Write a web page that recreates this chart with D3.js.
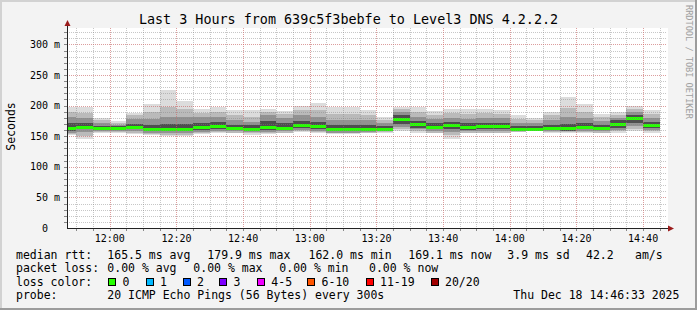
<!DOCTYPE html>
<html>

<head>
    <meta charset="utf-8">
    <style type="text/css">
        body {
            margin: 0;
            background: #f3f3f3;
        }

        text {
            font-family: "DejaVu Sans Mono", monospace;
            fill: #000;
        }
    </style>
</head>

<body>
    <div id="canvas"></div>

    <script type="text/javascript" src="https://cdn.jsdelivr.net/npm/d3@7/dist/d3.min.js"></script>
    <script type="text/javascript">
        // 5 minute slots, one bar each (start time of the slot)
        var slotTimes = ["11:45", "11:50", "11:55", "12:00", "12:05", "12:10", "12:15", "12:20", "12:25", "12:30",
            "12:35", "12:40", "12:45", "12:50", "12:55", "13:00", "13:05", "13:10", "13:15", "13:20",
            "13:25", "13:30", "13:35", "13:40", "13:45", "13:50", "13:55", "14:00", "14:05", "14:10",
            "14:15", "14:20", "14:25", "14:30", "14:35", "14:40"];

        // median rtt in ms
        var medianRtt = [163.0, 165.5, 163.0, 163.0, 164.5, 162.2, 162.0, 162.4, 164.5, 166.7,
            163.0, 162.3, 165.5, 164.0, 167.8, 166.0, 162.2, 162.3, 162.3, 162.3,
            178.0, 169.4, 165.5, 167.8, 165.0, 166.0, 166.0, 162.3, 162.1, 163.4,
            163.0, 165.5, 164.0, 169.4, 179.9, 169.1];

        // smoke bands (ms), outer to inner
        var smokeMax = [197, 198, 180, 175, 188, 203, 226, 208, 194, 197, 193, 193, 195, 191, 200, 205, 198, 197, 193, 181,
            198, 197, 191, 195, 194, 195, 192, 184, 180, 190, 214, 203, 186, 189, 199, 193];
        var smokeMin = [152, 145, 156, 155, 154, 152, 150, 150, 153, 155, 155, 152, 154, 155, 157, 156, 154, 154, 155, 156,
            158, 156, 155, 146, 155, 155, 155, 157, 158, 156, 156, 156, 155, 156, 158, 156];
        var smokeHi1 = [190, 188, 176, 172, 184, 190, 198, 195, 188, 190, 184, 182, 190, 186, 192, 192, 186, 186, 185, 177,
            195, 190, 185, 188, 186, 188, 186, 178, 176, 184, 196, 190, 181, 185, 195, 186];
        var smokeLo1 = [154, 151, 157, 157, 156, 154, 152, 152, 155, 157, 156, 155, 155, 156, 158, 157, 155, 155, 156, 157,
            161, 158, 156, 152, 156, 156, 156, 157, 158, 157, 157, 157, 156, 158, 161, 158];
        var smokeHi2 = [182, 180, 171, 169, 178, 178, 182, 182, 182, 182, 176, 174, 184, 180, 184, 182, 176, 176, 176, 172,
            190, 182, 178, 180, 178, 180, 179, 172, 171, 176, 182, 180, 175, 180, 190, 179];
        var smokeLo2 = [156, 157, 158, 158, 158, 156, 155, 155, 157, 159, 158, 157, 157, 158, 160, 159, 156, 156, 157, 158,
            165, 161, 158, 157, 158, 158, 158, 158, 159, 158, 158, 159, 158, 160, 166, 160];
        var smokeHi3 = [172, 171, 167, 166, 170, 168, 170, 170, 172, 174, 169, 168, 175, 172, 175, 173, 168, 168, 168, 167,
            184, 175, 171, 173, 171, 172, 172, 167, 166, 169, 170, 171, 169, 176, 185, 174];
        var smokeLo3 = [159, 161, 160, 160, 161, 158, 158, 158, 160, 162, 160, 159, 160, 160, 163, 162, 158, 158, 159, 159,
            170, 164, 161, 162, 160, 161, 161, 159, 160, 160, 159, 161, 160, 163, 172, 163];

        var yTicks = [0, 50, 100, 150, 200, 250, 300];

        var lossLabels = ["0", "1", "2", "3", "4-5", "6-10", "11-19", "20/20"];
        var lossColors = ["#26ff00", "#00b8ff", "#0059ff", "#7e00ff", "#f000ff", "#ff5500", "#ff0000", "#a10000"];

        (function () {
            var W = 697, H = 310;
            var left = 67, right = 667, top = 28, bottom = 228;
            var parse = d3.timeParse("%Y-%m-%d %H:%M:%S");
            var day = "2025-12-18 ";

            var svg = d3.select('#canvas').append('svg')
                .attr('width', W)
                .attr('height', H)
                .style('display', 'block');

            svg.append('rect').attr('width', W).attr('height', H).attr('fill', '#f3f3f3');
            // frame shading
            svg.append('rect').attr('x', 0).attr('y', 0).attr('width', W).attr('height', 2).attr('fill', '#d2d2d2');
            svg.append('rect').attr('x', 0).attr('y', 0).attr('width', 2).attr('height', H).attr('fill', '#d2d2d2');
            svg.append('rect').attr('x', 0).attr('y', H - 2).attr('width', W).attr('height', 2).attr('fill', '#9c9c9c');
            svg.append('rect').attr('x', W - 2).attr('y', 0).attr('width', 2).attr('height', H).attr('fill', '#9c9c9c');

            var x = d3.scaleTime()
                .domain([parse(day + "11:47:10"), parse(day + "14:47:10")])
                .range([left, right]);
            var y = d3.scaleLinear()
                .domain([0, 326.8])
                .range([bottom, top]);

            svg.append('rect')
                .attr('x', left).attr('y', top)
                .attr('width', right - left + 1).attr('height', bottom - top)
                .attr('fill', '#fff');

            svg.append('clipPath').attr('id', 'plot')
                .append('rect')
                .attr('x', left).attr('y', top)
                .attr('width', right - left).attr('height', bottom - top);

            var bars = slotTimes.map(function (s, i) {
                var t0 = parse(day + s + ":00");
                return {
                    t0: t0,
                    t1: d3.timeMinute.offset(t0, 5),
                    med: medianRtt[i],
                    bands: [
                        [smokeMin[i], smokeMax[i]],
                        [smokeLo1[i], smokeHi1[i]],
                        [smokeLo2[i], smokeHi2[i]],
                        [smokeLo3[i], smokeHi3[i]]
                    ]
                };
            });

            var bandColors = ["#dcdcdc", "#bababa", "#929292", "#4e4e4e"];
            var g = svg.append('g').attr('clip-path', 'url(#plot)');

            bandColors.forEach(function (c, k) {
                g.selectAll('rect.b' + k)
                    .data(bars)
                    .enter().append('rect')
                    .attr('class', 'b' + k)
                    .attr('x', function (d) { return x(d.t0); })
                    .attr('width', function (d) { return x(d.t1) - x(d.t0); })
                    .attr('y', function (d) { return y(d.bands[k][1]); })
                    .attr('height', function (d) { return y(d.bands[k][0]) - y(d.bands[k][1]); })
                    .attr('fill', c)
                    .attr('shape-rendering', 'crispEdges');
            });

            g.selectAll('rect.med')
                .data(bars)
                .enter().append('rect')
                .attr('class', 'med')
                .attr('x', function (d) { return x(d.t0); })
                .attr('width', function (d) { return x(d.t1) - x(d.t0); })
                .attr('y', function (d) { return Math.round(y(d.med)) - 1.5; })
                .attr('height', 3)
                .attr('fill', lossColors[0])
                .attr('shape-rendering', 'crispEdges');

            // grid
            var grid = svg.append('g').attr('shape-rendering', 'crispEdges');
            var minorX = x.ticks(d3.timeMinute.every(5));
            var majorX = x.ticks(d3.timeMinute.every(20));
            var minorY = d3.range(10, 327, 10);

            grid.selectAll('line.vx')
                .data(minorX)
                .enter().append('line')
                .attr('x1', function (d) { return Math.round(x(d)) + 0.5; })
                .attr('x2', function (d) { return Math.round(x(d)) + 0.5; })
                .attr('y1', top).attr('y2', bottom)
                .attr('stroke', 'rgba(130,130,130,0.45)')
                .attr('stroke-dasharray', '1,1');
            grid.selectAll('line.hy')
                .data(minorY)
                .enter().append('line')
                .attr('x1', left).attr('x2', right)
                .attr('y1', function (d) { return Math.round(y(d)) + 0.5; })
                .attr('y2', function (d) { return Math.round(y(d)) + 0.5; })
                .attr('stroke', 'rgba(130,130,130,0.45)')
                .attr('stroke-dasharray', '1,1');
            grid.selectAll('line.mx')
                .data(majorX)
                .enter().append('line')
                .attr('x1', function (d) { return Math.round(x(d)) + 0.5; })
                .attr('x2', function (d) { return Math.round(x(d)) + 0.5; })
                .attr('y1', top).attr('y2', bottom)
                .attr('stroke', 'rgba(255,90,90,0.38)')
                .attr('stroke-dasharray', '1,1');
            grid.selectAll('line.my')
                .data(yTicks.slice(1))
                .enter().append('line')
                .attr('x1', left).attr('x2', right)
                .attr('y1', function (d) { return Math.round(y(d)) + 0.5; })
                .attr('y2', function (d) { return Math.round(y(d)) + 0.5; })
                .attr('stroke', 'rgba(255,90,90,0.38)')
                .attr('stroke-dasharray', '1,1');

            // tick marks on the axes
            grid.selectAll('line.tx')
                .data(minorX)
                .enter().append('line')
                .attr('x1', function (d) { return Math.round(x(d)) + 0.5; })
                .attr('x2', function (d) { return Math.round(x(d)) + 0.5; })
                .attr('y1', bottom).attr('y2', bottom + 3)
                .attr('stroke', '#888');
            grid.selectAll('line.ty')
                .data(minorY)
                .enter().append('line')
                .attr('x1', left - 3).attr('x2', left)
                .attr('y1', function (d) { return Math.round(y(d)) + 0.5; })
                .attr('y2', function (d) { return Math.round(y(d)) + 0.5; })
                .attr('stroke', '#888');

            // axes
            svg.append('line')
                .attr('x1', left + 0.5).attr('x2', left + 0.5)
                .attr('y1', bottom + 0.5).attr('y2', 25)
                .attr('stroke', '#222').attr('shape-rendering', 'crispEdges');
            svg.append('line')
                .attr('x1', left).attr('x2', right + 2)
                .attr('y1', bottom + 0.5).attr('y2', bottom + 0.5)
                .attr('stroke', '#222').attr('shape-rendering', 'crispEdges');
            svg.append('path')
                .attr('d', 'M64.5,26L70.5,26L67.5,20Z')
                .attr('fill', '#9b1c1c');
            svg.append('path')
                .attr('d', 'M668,225.5L668,231.5L674,228.5Z')
                .attr('fill', '#9b1c1c');

            // tick labels
            svg.selectAll('text.xl')
                .data(majorX)
                .enter().append('text')
                .attr('x', function (d) { return x(d); })
                .attr('y', 241.5)
                .attr('text-anchor', 'middle')
                .style('font-size', '10px')
                .text(d3.timeFormat('%H:%M'));
            svg.selectAll('text.yl')
                .data(yTicks)
                .enter().append('text')
                .attr('x', function (d) { return d === 0 ? 48 : 60; })
                .attr('y', function (d) { return y(d) + 3.5; })
                .attr('text-anchor', 'end')
                .style('font-size', '10px')
                .text(function (d) { return d === 0 ? "0" : d + " m"; });

            svg.append('text')
                .attr('transform', 'translate(15,126.5) rotate(-90)')
                .attr('text-anchor', 'middle')
                .style('font-size', '11.5px')
                .text('Seconds');

            svg.append('text')
                .attr('x', 348.5).attr('y', 24)
                .attr('text-anchor', 'middle')
                .style('font-size', '13.4px')
                .text('Last 3 Hours from 639c5f3bebfe to Level3 DNS 4.2.2.2');

            svg.append('text')
                .attr('transform', 'translate(685.5,5) rotate(90)')
                .style('font-size', '8.6px')
                .style('fill', '#a0a0a0')
                .text('RRDTOOL / TOBI OETIKER');

            // legend
            var legend = svg.append('g').style('font-size', '11.5px');
            var rows = [
                [258.5, [[16, "median rtt:"], [107.3, "165.5 ms avg"], [207.3, "179.9 ms max"], [308.5, "162.0 ms min"],
                    [408.3, "169.1 ms now"], [507.3, "3.9 ms sd"], [586, "42.2"], [635, "am/s"]]],
                [272, [[16, "packet loss:"], [107.3, "0.00 % avg"], [193.3, "0.00 % max"], [279.3, "0.00 % min"],
                    [369, "0.00 % now"]]],
                [285.8, [[16, "loss color:"]]],
                [299.4, [[16, "probe:"], [107.3, "20 ICMP Echo Pings (56 Bytes) every 300s"],
                    [513.3, "Thu Dec 18 14:46:33 2025"]]]
            ];
            rows.forEach(function (r) {
                r[1].forEach(function (p) {
                    legend.append('text').attr('x', p[0]).attr('y', r[0]).text(p[1]);
                });
            });

            var boxX = [108.3, 145.7, 182.7, 219.3, 257, 307.3, 365.7, 430.7];
            lossLabels.forEach(function (l, i) {
                legend.append('rect')
                    .attr('x', boxX[i] + 0.5).attr('y', 278.5)
                    .attr('width', 7).attr('height', 7)
                    .attr('fill', lossColors[i])
                    .attr('stroke', '#000')
                    .attr('shape-rendering', 'crispEdges');
                legend.append('text').attr('x', boxX[i] + 14.3).attr('y', 285.8).text(l);
            });
        })();
    </script>
</body>

</html>
